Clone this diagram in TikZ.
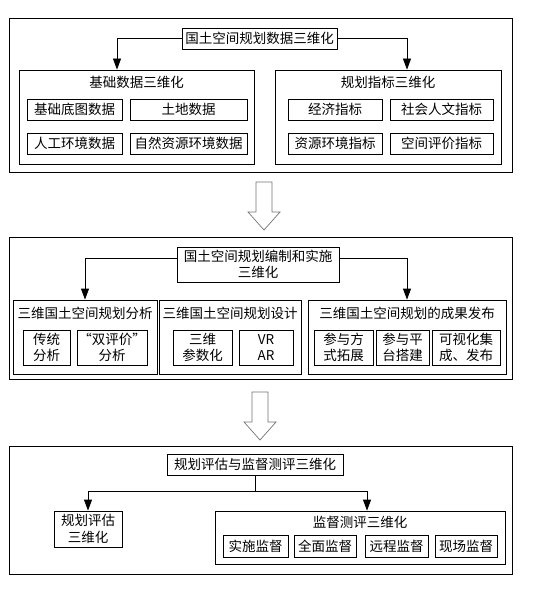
\documentclass[tikz,border=0pt]{standalone}
\usepackage{fontspec}
\newfontfamily\cjk{Noto Sans CJK SC}
\usetikzlibrary{arrows.meta}

\begin{document}
\begin{tikzpicture}[x=1pt,y=-1pt,line width=0.8pt]
    \tikzstyle{box}=[draw=black,inner sep=0pt,minimum height=21pt,font=\cjk\fontsize{13.5}{16.5}\selectfont,align=center]
    \tikzstyle{frame}=[draw=black,line width=1pt,inner sep=0pt]
    \tikzstyle{head}=[inner sep=0pt,font=\cjk\fontsize{13.5}{16.5}\selectfont]
    \tikzstyle{arrow}=[-{Triangle[length=11pt,width=8pt]}]
    \tikzstyle{hollow}=[draw=black!55,fill=white,line width=0.7pt,line join=miter]
    \useasboundingbox (0,0) rectangle (533,596);

    % data
    \node[frame,minimum width=503,minimum height=153] (sec1) at (260.5,95.5) {};
    \node[box,minimum width=155] (data) at (259.5,38.5) {国土空间规划数据三维化};
    \node[box,minimum width=235,minimum height=94] (base) at (136.5,117) {};
    \node[head] at (136.5,82) {基础数据三维化};
    \node[box,minimum width=226,minimum height=94] (index) at (388,117) {};
    \node[head] at (388,82) {规划指标三维化};
    \foreach \name/\x/\y/\w/\txt in {a1/74.5/109.5/95/基础底图数据, a2/188.5/109.5/117/土地数据,
            a3/74.5/143.5/95/人工环境数据, a4/188.5/143.5/117/自然资源环境数据,
            b1/335/109.5/94/经济指标, b2/441.5/109.5/103/社会人文指标,
            b3/335/143.5/94/资源环境指标, b4/441.5/143.5/103/空间评价指标}
        \node[box,minimum width=\w] (\name) at (\x,\y) {\txt};
    \draw[arrow] (data.west) -| ([xshift=-19.5pt]base.north);
    \draw[arrow] (data.east) -| ([xshift=19pt]index.north);

    % hollow arrows between the parts
    \foreach \x/\y in {264/182, 260/392}
        \draw[hollow] (\x-8,\y) -- (\x+8,\y) -- (\x+8,\y+30) -- (\x+16,\y+30)
            -- (\x,\y+48) -- (\x-16,\y+30) -- (\x-8,\y+30) -- cycle;

    % compiling
    \node[frame,minimum width=503,minimum height=142] (sec2) at (260.5,308) {};
    \node[box,minimum width=162,minimum height=35] (make) at (258,264.5) {国土空间规划编制和实施\\三维化};
    \node[box,minimum width=144,minimum height=74] (ana) at (85,337) {};
    \node[head] at (85,313) {三维国土空间规划分析};
    \node[box,minimum width=142,minimum height=74] (des) at (230,337) {};
    \node[head] at (230,313) {三维国土空间规划设计};
    \node[box,minimum width=198,minimum height=74] (pub) at (407,337) {};
    \node[head] at (407,313) {三维国土空间规划的成果发布};
    \foreach \name/\x/\w/\txt in {c1/46.5/47/{传统\\分析}, c2/112/70/{“双评价”\\分析},
            d1/202.5/59/{三维\\参数化}, d2/266/54/{VR\\AR},
            e1/343.5/59/{参与方\\式拓展}, e2/402.5/53/{参与平\\台搭建}, e3/466/68/{可视化集\\成、发布}}
        \node[box,minimum width=\w,minimum height=35] (\name) at (\x,347.5) {\txt};
    \draw[arrow] ([yshift=6pt]make.west) -| (ana.north);
    \draw[arrow] ([yshift=6pt]make.east) -| (pub.north);

    % evaluation
    \node[frame,minimum width=503,minimum height=128] (sec3) at (260.5,510) {};
    \node[box,minimum width=176] (eval) at (255,464.5) {规划评估与监督测评三维化};
    \node[box,minimum width=68,minimum height=36] (ev3d) at (88,529) {规划评估\\三维化};
    \node[box,minimum width=290,minimum height=53] (sup) at (360,537.5) {};
    \node[head] at (360,522) {监督测评三维化};
    \foreach \name/\x/\w/\txt in {f1/255.5/65/实施监督, f2/325/62/全面监督,
            f3/396.5/63/远程监督, f4/466/62/现场监督}
        \node[box,minimum width=\w,minimum height=22] (\name) at (\x,546) {\txt};
    \coordinate (split) at ([yshift=-15.5pt]eval.south);
    \draw (eval.south) -- (split);
    \draw[arrow] (split) -| (ev3d.north);
    \draw[arrow] (split) -| ([xshift=7pt]sup.north);
\end{tikzpicture}
\end{document}
